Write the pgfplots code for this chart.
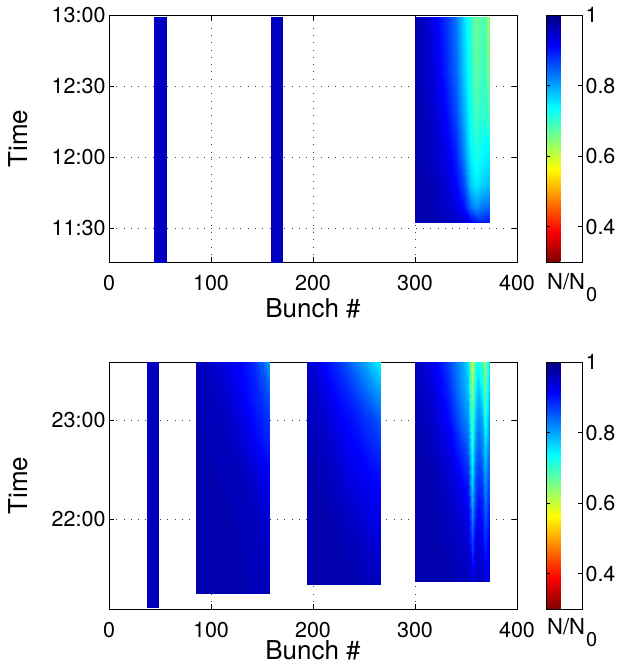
\documentclass[border=0pt]{standalone}
\usepackage{fontspec}
\setmainfont{TeX Gyre Heros}
\usepackage{pgfplots}
\pgfplotsset{compat=1.18}

\pgfplotsset{
  panel/.style={
    scale only axis, width=408pt, height=247pt,
    xmin=0, xmax=400, xtick={0,100,200,300,400},
    xticklabels={0,100,200,300,400},
    tick align=inside, major tick length=5pt,
    grid=major, grid style={black!75, line width=0.6pt, dash pattern=on 0.8pt off 6.5pt},
    axis line style={line width=0.9pt},
    tick style={black, line width=0.6pt},
    ticklabel style={font=\fontsize{21.5}{21.5}\selectfont},
    xticklabel style={anchor=base, inner sep=0pt, yshift=-28pt},
    label style={font=\fontsize{26}{26}\selectfont, inner sep=0pt},
    xlabel={Bunch \#}, ylabel={Time},
    ylabel style={at={(axis description cs:-0.222,0.5)}, anchor=center},
    colormap={rjet}{rgb255(0cm)=(128,0,0); rgb255(1cm)=(255,0,0); rgb255(3cm)=(255,255,0); rgb255(5cm)=(0,255,255); rgb255(7cm)=(0,0,255); rgb255(8cm)=(0,0,128)},
    point meta min=0.3, point meta max=1,
    colorbar,
    colorbar style={width=36pt, at={(parent axis.north east)}, anchor=north west, xshift=20.5pt,
      ytick={0.4,0.6,0.8,1}, yticklabels={0.4,0.6,0.8,1},
      tick align=inside, major tick length=4pt,
      axis line style={line width=0.9pt},
      yticklabel style={font=\fontsize{21.5}{21.5}\selectfont}},
  },
  blk/.style={surf, shader=interp, point meta=explicit},
}
\newcommand{\NN}{N/N\hspace{1pt}{\fontsize{20}{20}\selectfont\raisebox{-12pt}{0}}}

\begin{document}
\begin{tikzpicture}
\path[use as bounding box] (0,0) rectangle (627pt,-665pt);

% ---------------- top panel ----------------
\begin{axis}[panel, name=top, at={(109pt,-262pt)}, anchor=south west,
  xlabel style={at={(axis description cs:0.5,0)}, anchor=center, yshift=-46.5pt},
  ymin=11.26, ymax=13, ytick={11.5,12,12.5,13},
  yticklabels={11:30,12:00,12:30,13:00}]
\addplot[blk, mesh/cols=2] table[x=x,y=y,meta=c,row sep=\\]{
x y c\\
44 11.26 0.955\\ 56 11.26 0.955\\
44 12.985 0.955\\ 56 12.985 0.955\\
};
\addplot[blk, mesh/cols=2] table[x=x,y=y,meta=c,row sep=\\]{
x y c\\
159 11.26 0.955\\ 170 11.26 0.955\\
159 12.985 0.955\\ 170 12.985 0.955\\
};
\addplot[blk, mesh/cols=10] table[x=x,y=y,meta=c,row sep=\\]{
x y c\\
300 11.54 0.97\\ 310 11.54 0.97\\ 320 11.54 0.97\\ 330 11.54 0.96\\ 340 11.54 0.95\\ 348 11.54 0.94\\ 354 11.54 0.92\\ 360 11.54 0.90\\ 366 11.54 0.89\\ 373 11.54 0.90\\
300 11.65 0.97\\ 310 11.65 0.97\\ 320 11.65 0.96\\ 330 11.65 0.95\\ 340 11.65 0.93\\ 348 11.65 0.90\\ 354 11.65 0.84\\ 360 11.65 0.81\\ 366 11.65 0.83\\ 373 11.65 0.84\\
300 11.80 0.97\\ 310 11.80 0.97\\ 320 11.80 0.96\\ 330 11.80 0.94\\ 340 11.80 0.91\\ 348 11.80 0.86\\ 354 11.80 0.78\\ 360 11.80 0.75\\ 366 11.80 0.77\\ 373 11.80 0.78\\
300 12.00 0.97\\ 310 12.00 0.96\\ 320 12.00 0.95\\ 330 12.00 0.93\\ 340 12.00 0.89\\ 348 12.00 0.82\\ 354 12.00 0.75\\ 360 12.00 0.72\\ 366 12.00 0.74\\ 373 12.00 0.75\\
300 12.30 0.97\\ 310 12.30 0.96\\ 320 12.30 0.94\\ 330 12.30 0.91\\ 340 12.30 0.86\\ 348 12.30 0.79\\ 354 12.30 0.73\\ 360 12.30 0.69\\ 366 12.30 0.71\\ 373 12.30 0.69\\
300 12.60 0.97\\ 310 12.60 0.95\\ 320 12.60 0.93\\ 330 12.60 0.89\\ 340 12.60 0.84\\ 348 12.60 0.77\\ 354 12.60 0.72\\ 360 12.60 0.67\\ 366 12.60 0.70\\ 373 12.60 0.66\\
300 12.985 0.97\\ 310 12.985 0.95\\ 320 12.985 0.92\\ 330 12.985 0.88\\ 340 12.985 0.83\\ 348 12.985 0.76\\ 354 12.985 0.71\\ 360 12.985 0.66\\ 366 12.985 0.69\\ 373 12.985 0.64\\
};
\end{axis}
\node[anchor=north west, font=\fontsize{22}{22}\selectfont, inner sep=0pt]
  at ([xshift=30pt, yshift=-11pt]top.south east) {\NN};

% ---------------- bottom panel ----------------
\begin{axis}[panel, name=bot, at={(109pt,-609pt)}, anchor=south west,
  xlabel style={at={(axis description cs:0.5,0)}, anchor=center, yshift=-41pt},
  ymin=21.09, ymax=23.586, ytick={22,23},
  yticklabels={22:00,23:00}]
\addplot[blk, mesh/cols=2] table[x=x,y=y,meta=c,row sep=\\]{
x y c\\
37 21.11 0.96\\ 49 21.11 0.96\\
37 23.586 0.955\\ 49 23.586 0.955\\
};
\addplot[blk, mesh/cols=7] table[x=x,y=y,meta=c,row sep=\\]{
x y c\\
85 21.25 0.97\\ 100 21.25 0.97\\ 115 21.25 0.97\\ 130 21.25 0.97\\ 140 21.25 0.96\\ 150 21.25 0.96\\ 157 21.25 0.96\\
85 22.0 0.97\\ 100 22.0 0.97\\ 115 22.0 0.97\\ 130 22.0 0.96\\ 140 22.0 0.96\\ 150 22.0 0.95\\ 157 22.0 0.94\\
85 22.4 0.97\\ 100 22.4 0.97\\ 115 22.4 0.96\\ 130 22.4 0.96\\ 140 22.4 0.95\\ 150 22.4 0.93\\ 157 22.4 0.92\\
85 22.8 0.97\\ 100 22.8 0.96\\ 115 22.8 0.96\\ 130 22.8 0.94\\ 140 22.8 0.92\\ 150 22.8 0.90\\ 157 22.8 0.89\\
85 23.2 0.96\\ 100 23.2 0.96\\ 115 23.2 0.95\\ 130 23.2 0.92\\ 140 23.2 0.90\\ 150 23.2 0.88\\ 157 23.2 0.86\\
85 23.586 0.96\\ 100 23.586 0.95\\ 115 23.586 0.93\\ 130 23.586 0.91\\ 140 23.586 0.89\\ 150 23.586 0.85\\ 157 23.586 0.80\\
};
\addplot[blk, mesh/cols=8] table[x=x,y=y,meta=c,row sep=\\]{
x y c\\
194 21.34 0.97\\ 207 21.34 0.97\\ 220 21.34 0.97\\ 231 21.34 0.97\\ 240 21.34 0.97\\ 251 21.34 0.96\\ 258 21.34 0.96\\ 266 21.34 0.96\\
194 21.8 0.97\\ 207 21.8 0.97\\ 220 21.8 0.97\\ 231 21.8 0.96\\ 240 21.8 0.96\\ 251 21.8 0.95\\ 258 21.8 0.94\\ 266 21.8 0.94\\
194 22.2 0.97\\ 207 22.2 0.97\\ 220 22.2 0.96\\ 231 22.2 0.95\\ 240 22.2 0.94\\ 251 22.2 0.93\\ 258 22.2 0.92\\ 266 22.2 0.92\\
194 22.6 0.97\\ 207 22.6 0.96\\ 220 22.6 0.95\\ 231 22.6 0.93\\ 240 22.6 0.92\\ 251 22.6 0.91\\ 258 22.6 0.90\\ 266 22.6 0.89\\
194 23.0 0.96\\ 207 23.0 0.95\\ 220 23.0 0.93\\ 231 23.0 0.91\\ 240 23.0 0.90\\ 251 23.0 0.88\\ 258 23.0 0.87\\ 266 23.0 0.85\\
194 23.3 0.96\\ 207 23.3 0.94\\ 220 23.3 0.91\\ 231 23.3 0.89\\ 240 23.3 0.87\\ 251 23.3 0.84\\ 258 23.3 0.82\\ 266 23.3 0.80\\
194 23.586 0.95\\ 207 23.586 0.92\\ 220 23.586 0.89\\ 231 23.586 0.86\\ 240 23.586 0.83\\ 251 23.586 0.80\\ 258 23.586 0.77\\ 266 23.586 0.74\\
};
\addplot[blk, mesh/cols=11] table[x=x,y=y,meta=c,row sep=\\]{
x y c\\
300 21.37 0.97\\ 316 21.37 0.97\\ 332 21.37 0.97\\ 346 21.37 0.96\\ 352 21.37 0.96\\ 355.5 21.37 0.94\\ 358.5 21.37 0.95\\ 362 21.37 0.96\\ 366 21.37 0.95\\ 369 21.37 0.93\\ 373 21.37 0.95\\
300 21.8 0.97\\ 316 21.8 0.97\\ 332 21.8 0.96\\ 346 21.8 0.95\\ 352 21.8 0.94\\ 355.5 21.8 0.86\\ 358.5 21.8 0.92\\ 362 21.8 0.94\\ 366 21.8 0.92\\ 369 21.8 0.88\\ 373 21.8 0.92\\
300 22.3 0.97\\ 316 22.3 0.97\\ 332 22.3 0.95\\ 346 22.3 0.92\\ 352 22.3 0.90\\ 355.5 22.3 0.77\\ 358.5 22.3 0.86\\ 362 22.3 0.89\\ 366 22.3 0.88\\ 369 22.3 0.82\\ 373 22.3 0.87\\
300 22.7 0.97\\ 316 22.7 0.96\\ 332 22.7 0.93\\ 346 22.7 0.88\\ 352 22.7 0.85\\ 355.5 22.7 0.72\\ 358.5 22.7 0.82\\ 362 22.7 0.85\\ 366 22.7 0.83\\ 369 22.7 0.77\\ 373 22.7 0.83\\
300 23.0 0.97\\ 316 23.0 0.95\\ 332 23.0 0.91\\ 346 23.0 0.84\\ 352 23.0 0.81\\ 355.5 23.0 0.68\\ 358.5 23.0 0.78\\ 362 23.0 0.82\\ 366 23.0 0.80\\ 369 23.0 0.72\\ 373 23.0 0.80\\
300 23.3 0.96\\ 316 23.3 0.94\\ 332 23.3 0.89\\ 346 23.3 0.81\\ 352 23.3 0.78\\ 355.5 23.3 0.63\\ 358.5 23.3 0.74\\ 362 23.3 0.78\\ 366 23.3 0.74\\ 369 23.3 0.67\\ 373 23.3 0.77\\
300 23.586 0.96\\ 316 23.586 0.93\\ 332 23.586 0.87\\ 346 23.586 0.80\\ 352 23.586 0.76\\ 355.5 23.586 0.59\\ 358.5 23.586 0.70\\ 362 23.586 0.73\\ 366 23.586 0.70\\ 369 23.586 0.64\\ 373 23.586 0.75\\
};
\end{axis}
\node[anchor=north west, font=\fontsize{22}{22}\selectfont, inner sep=0pt]
  at ([xshift=30pt, yshift=-9pt]bot.south east) {\NN};
\end{tikzpicture}
\end{document}
